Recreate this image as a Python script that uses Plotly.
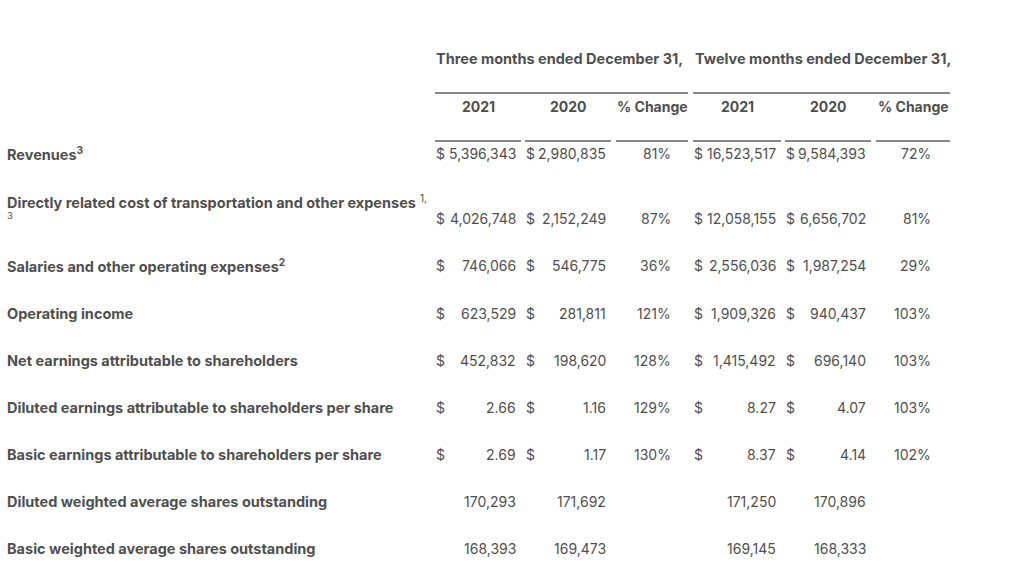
import plotly.graph_objects as go

# ---------------- data ----------------
group_headers = ["Three months ended December 31,", "Twelve months ended December 31,"]
col_headers = ["2021", "2020", "% Change", "2021", "2020", "% Change"]

row_labels = [
    "Revenues",
    "Directly related cost of transportation and other expenses",
    "Salaries and other operating expenses",
    "Operating income",
    "Net earnings attributable to shareholders",
    "Diluted earnings attributable to shareholders per share",
    "Basic earnings attributable to shareholders per share",
    "Diluted weighted average shares outstanding",
    "Basic weighted average shares outstanding",
]
label_notes = ["3", "1,", "2", "", "", "", "", "", ""]
label_notes_wrapped = ["", "3", "", "", "", "", "", "", ""]
value_kind = ["money", "money", "money", "money", "money", "eps", "eps", "shares", "shares"]

q4_2021 = [5396343, 4026748, 746066, 623529, 452832, 2.66, 2.69, 170293, 168393]
q4_2020 = [2980835, 2152249, 546775, 281811, 198620, 1.16, 1.17, 171692, 169473]
q4_change = [81, 87, 36, 121, 128, 129, 130, None, None]
fy_2021 = [16523517, 12058155, 2556036, 1909326, 1415492, 8.27, 8.37, 171250, 169145]
fy_2020 = [9584393, 6656702, 1987254, 940437, 696140, 4.07, 4.14, 170896, 168333]
fy_change = [72, 81, 29, 103, 103, 103, 102, None, None]

# ---------------- layout constants ----------------
W, H = 1009, 571
FONT = "Inter"
COLOR = "#4f4f4f"
FS_LABEL = 14.5
FS_HEAD = 14.5
FS_COLHEAD = 14
FS_VAL = 14

col_left = [435, 525, 616, 693, 785, 876]
col_right = [521, 611, 688, 781, 871, 950]
val_right = [517, 607, 672, 777, 867, 932]
group_span = [(435, 688), (693, 950)]
group_text_x = [435, 694]
row_y = [153, 218, 265, 313, 360, 407, 454, 501, 548]
label_y = [153, 201, 265, 313, 360, 407, 454, 501, 548]
LABEL_X = 6
HEADER_Y = 58
COLHEAD_Y = 106
LINE1_Y = 93
LINE2_Y = 141

fig = go.Figure()
fig.add_trace(go.Scatter(x=[0], y=[0], mode="markers", marker=dict(opacity=0), hoverinfo="skip", showlegend=False))

ann = []
def add(x, y, text, anchor="left", size=FS_VAL):
    ann.append(dict(x=x, y=y, xref="x", yref="y", text=text, showarrow=False,
                    xanchor=anchor, yanchor="middle",
                    font=dict(family=FONT, size=size, color=COLOR), borderpad=0))

for gx, gt in zip(group_text_x, group_headers):
    add(gx, HEADER_Y, f"<b>{gt}</b>", "left", FS_HEAD)

for i, ch in enumerate(col_headers):
    add((col_left[i] + col_right[i]) / 2, COLHEAD_Y, f"<b>{ch}</b>", "center", FS_COLHEAD)

shapes = []
for a, b in group_span:
    shapes.append(dict(type="line", xref="x", yref="y", x0=a, x1=b, y0=LINE1_Y, y1=LINE1_Y,
                       line=dict(color="#111111", width=1)))
for a, b in zip(col_left, col_right):
    shapes.append(dict(type="line", xref="x", yref="y", x0=a, x1=b, y0=LINE2_Y, y1=LINE2_Y,
                       line=dict(color="#111111", width=1)))

def fmt(v, kind):
    if kind == "eps":
        return f"{v:.2f}"
    return f"{int(v):,}"

for i, lab in enumerate(row_labels):
    note = label_notes[i]
    if note.endswith(","):
        txt = f"<b>{lab}</b> <sup>{note}</sup>"
    elif note:
        txt = f"<b>{lab}<sup>{note}</sup></b>"
    else:
        txt = f"<b>{lab}</b>"
    add(LABEL_X, label_y[i], txt, "left", FS_LABEL)
    if label_notes_wrapped[i]:
        add(LABEL_X, label_y[i] + 14, label_notes_wrapped[i], "left", 9.5)

columns = [q4_2021, q4_2020, q4_change, fy_2021, fy_2020, fy_change]
for c, vals in enumerate(columns):
    for i, v in enumerate(vals):
        if v is None:
            continue
        kind = value_kind[i]
        if c in (2, 5):
            add(val_right[c], row_y[i], f"{int(v)}%", "right")
        else:
            add(val_right[c], row_y[i], fmt(v, kind), "right")
            if kind in ("money", "eps"):
                add(col_left[c], row_y[i], "$", "left")

fig.update_layout(
    width=W, height=H,
    margin=dict(l=0, r=0, t=0, b=0),
    paper_bgcolor="white", plot_bgcolor="white",
    xaxis=dict(range=[0, W], visible=False, fixedrange=True),
    yaxis=dict(range=[H, 0], visible=False, fixedrange=True),
    annotations=ann, shapes=shapes, showlegend=False,
)
fig.write_html("out.html", config={"displayModeBar": False},
               post_script="document.body.style.margin='0';document.body.style.overflow='hidden';")
